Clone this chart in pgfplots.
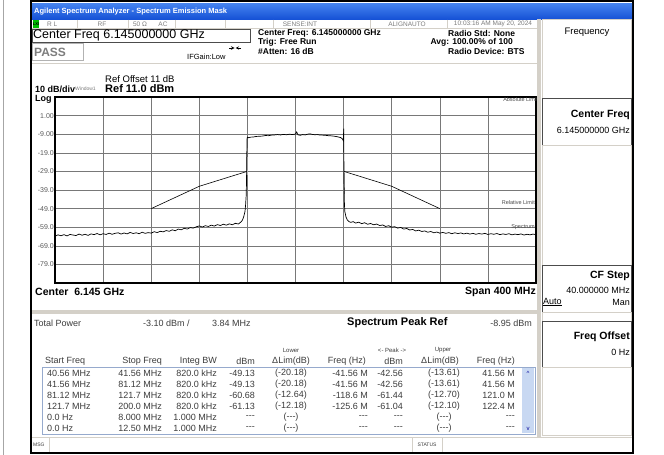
\documentclass[border=0pt]{standalone}
\usepackage{pgfplots}
\pgfplotsset{compat=1.18}
\usepackage{fontspec}
\setmainfont{Liberation Sans}
\definecolor{tbar}{RGB}{22,82,214}
\definecolor{tbartop}{RGB}{70,132,240}
\definecolor{panelgray}{RGB}{212,208,200}
\definecolor{txtgray}{RGB}{125,125,125}
\definecolor{gridgray}{RGB}{120,120,120}
\definecolor{tblborder}{RGB}{150,170,205}
\definecolor{scrollc}{RGB}{200,216,242}
\definecolor{tabtxt}{RGB}{60,60,60}
\newcommand{\fs}[1]{\fontsize{#1}{#1}\selectfont}
\newcommand{\ddd}{-{}-{}-}

\begin{document}
\begin{tikzpicture}
\path[use as bounding box, fill=white] (0,0) rectangle (664pt,-455pt);
\begin{scope}[x=1pt,y=-1pt]
 \draw[gray!70, line width=0.8pt] (3.5,0) -- (3.5,455);
 \draw[black, line width=2pt] (31,1) rectangle (633,453);
 % title bar
 \shade[top color=tbartop, bottom color=tbar] (32,3) rectangle (632,19);
 \node[anchor=west, text=white, font=\fs{7.5}\bfseries, inner sep=0] at (34,11.5) {Agilent Spectrum Analyzer - Spectrum Emission Mask};
 % status row
 \draw[panelgray] (32,28.5) -- (537,28.5);
 \foreach \xx in {77,128,175,225,273,370,447}{\draw[panelgray] (\xx,19.5) -- (\xx,28.5);}
 \fill[green!75!black] (33,20) rectangle (39,28);
 \node[font=\fs{4}\bfseries, inner sep=0] at (36,24) {LXI};
 \begin{scope}[every node/.style={font=\fs{6.5}, text=txtgray, inner sep=0}]
 \node[anchor=west] at (47,24) {R L};
 \node at (102,24) {RF};
 \node at (140,24) {50 Ω};
 \node at (163,24) {AC};
 \node at (300,24) {SENSE:INT};
 \node at (407,24) {ALIGNAUTO};
 \node at (493,24) {10:03:16 AM May 20, 2024};
 \end{scope}
 % Center freq box
 \draw[black!70, line width=0.8pt] (32,29.5) rectangle (250,42);
 \node[anchor=west, font=\fs{12.5}, inner sep=0] at (33,35.8) {Center Freq 6.145000000 GHz};
 \draw[gray!60, line width=0.8pt] (32,43) rectangle (83,60);
 \node[anchor=west, font=\fs{12}\bfseries, text=txtgray, inner sep=0] at (34,52) {PASS};
 \node[anchor=west, font=\fs{7.5}, inner sep=0] at (187,57) {IFGain:Low};
 \draw[-stealth, line width=0.6pt] (229,48) -- (234.5,48);
 \draw[-stealth, line width=0.6pt] (241,48) -- (235.5,48);
 \begin{scope}[every node/.style={font=\fs{8.5}\bfseries, anchor=west, inner sep=0}]
 \node at (258,33) {Center Freq: 6.145000000 GHz};
 \node at (258,42) {Trig: Free Run};
 \node at (258,51) {\#Atten: 16 dB};
 \node[anchor=east] at (513,42) {Avg: 100.00\% of 100};
 \node at (448,33) {Radio Std: None};
 \node at (448,51) {Radio Device: BTS};
 \end{scope}
 \draw[panelgray, line width=1pt] (32,63) -- (537,63);
 % ref texts
 \node[anchor=west, font=\fs{9.5}, inner sep=0] at (105,79) {Ref Offset 11 dB};
 \node[anchor=west, font=\fs{9}\bfseries, inner sep=0] at (35,89.5) {10 dB/div};
 \node[anchor=west, font=\fs{5}, text=txtgray, inner sep=0] at (75,88.5) {Window1};
 \node[anchor=west, font=\fs{11}\bfseries, inner sep=0] at (105,89) {Ref 11.0 dBm};
 \node[anchor=west, font=\fs{9}\bfseries, inner sep=0] at (35,99.5) {Log};
\end{scope}

\begin{axis}[at={(55pt,-97pt)}, anchor=north west, scale only axis,
 width=481pt, height=186pt,
 xmin=-200, xmax=200, ymin=-89, ymax=11,
 xtick={-200,-160,...,200}, xticklabels={},
 ytick={1,-9,-19,-29,-39,-49,-59,-69,-79},
 yticklabels={1.00,-9.00,-19.0,-29.0,-39.0,-49.0,-59.0,-69.0,-79.0},
 yticklabel style={font=\fs{7}, text=black!65, inner sep=1pt},
 grid=major, grid style={gridgray, line width=0.6pt},
 major tick length=0pt,
 axis line style={black, line width=1.5pt},
 clip=true]
\addplot[gray!60, line width=1.6pt] coordinates {(-40.4,-21) (-40.4,-31)};
\addplot[gray!60, line width=1.6pt] coordinates {(40.6,-30) (40.6,-41)};
\addplot[black, line width=0.6pt] coordinates {(-120,-49) (-80,-37) (-40.3,-29)};
\addplot[black, line width=0.6pt] coordinates {(40.3,-29) (80,-37) (120,-49)};
\addplot[black, line width=0.7pt] table {
x y
-200 -63.9
-197.5 -63.1
-195 -63.6
-192.5 -63.0
-190 -63.7
-187.5 -62.9
-185 -63.2
-182.5 -63.5
-180 -62.7
-177.5 -63.3
-175 -62.8
-172.5 -63.4
-170 -62.6
-167.5 -63.0
-165 -62.4
-162.5 -63.1
-160 -62.5
-157.5 -62.9
-155 -62.2
-152.5 -62.8
-150 -62.3
-147.5 -62.0
-145 -62.7
-142.5 -62.1
-140 -62.6
-137.5 -61.8
-135 -62.4
-132.5 -62.0
-130 -62.5
-127.5 -61.7
-125 -62.3
-122.5 -61.9
-120 -62.2
-117.5 -61.4
-115 -61.9
-112.5 -61.2
-110 -61.5
-107.5 -60.8
-105 -61.2
-102.5 -60.4
-100 -60.9
-97.5 -60.0
-95 -60.4
-92.5 -59.6
-90 -60.0
-87.5 -59.2
-85 -59.5
-82.5 -58.8
-80 -58.3
-77.5 -58.9
-75 -58.2
-72.5 -58.6
-70 -57.9
-67.5 -58.4
-65 -57.6
-62.5 -58.1
-60 -57.4
-57.5 -57.9
-55 -57.2
-52.5 -57.7
-50 -56.9
-47.5 -57.3
-46 -56.5
-45 -56.0
-44 -55.0
-43 -53.2
-42 -50.5
-41.5 -47.0
-41 -42.0
-40.7 -33.0
-40.5 -20.0
-40.3 -11.5
-40 -10.6
-39 -10.9
-37.5 -10.6
-35 -10.5
-32.5 -10.2
-30 -10.1
-27.5 -10.0
-25 -9.7
-22.5 -9.8
-20 -9.5
-17.5 -9.4
-15 -9.2
-12.5 -9.4
-10 -9.1
-7.5 -9.3
-5 -9.0
-2.5 -9.2
0 -8.9
1 -7.8
2 -9.3
4 -9.6
6 -9.2
8 -9.4
10 -9.0
12 -8.8
14 -9.1
16 -9.3
18 -9.2
20 -9.4
22.5 -9.5
25 -9.6
27.5 -9.8
30 -9.9
32.5 -10.1
35 -10.4
37.5 -10.8
39 -11.5
39.8 -12.5
40.1 -6.0
40.3 -30.0
40.6 -45.0
41 -50.5
42 -53.5
43 -55.0
44.5 -56.0
46 -56.4
48 -56.0
50 -56.8
52.5 -56.3
55 -57.1
57.5 -56.6
60 -57.4
62.5 -57.0
65 -57.7
67.5 -57.3
70 -58.1
72.5 -57.8
75 -58.6
77.5 -58.2
80 -59.0
82.5 -58.7
85 -59.5
87.5 -59.1
90 -60.0
92.5 -59.7
95 -60.5
97.5 -60.2
100 -61.0
102.5 -60.6
105 -61.3
107.5 -61.0
110 -61.7
112.5 -61.3
115 -62.0
117.5 -61.6
120 -62.2
122.5 -61.8
125 -62.3
127.5 -61.9
130 -62.5
132.5 -62.0
135 -62.4
137.5 -62.1
140 -62.6
142.5 -62.2
145 -62.7
147.5 -62.3
150 -62.8
152.5 -62.4
155 -62.7
157.5 -62.3
160 -62.9
162.5 -62.5
165 -62.8
167.5 -62.4
170 -63.0
172.5 -62.6
175 -62.9
177.5 -62.5
180 -63.1
182.5 -62.7
185 -63.0
187.5 -62.6
190 -63.2
192.5 -62.8
195 -63.1
197.5 -62.7
200 -63.0
};
\end{axis}

\begin{scope}[x=1pt,y=-1pt]
 \begin{scope}[every node/.style={font=\fs{5.5}, text=black!70, anchor=east, inner sep=0}]
 \node at (538,100) {Absolute Limit};
 \node at (535,203) {Relative Limit};
 \node at (535,227) {Spectrum};
 \end{scope}
 \node[anchor=west, font=\fs{10.5}\bfseries, inner sep=0] at (35,292) {Center\ \ 6.145 GHz};
 \node[anchor=east, font=\fs{10.5}\bfseries, inner sep=0] at (536,292) {Span 400 MHz};
 \fill[panelgray] (32,309.5) rectangle (537,313.5);
 % softkey panel
 \fill[panelgray] (537,19) rectangle (541,437);
 \draw[panelgray, line width=0.8pt] (542,19.5) rectangle (631,98);
 \node[font=\fs{9.5}, inner sep=0] at (587,32) {Frequency};
 \draw[black!70, line width=0.8pt] (542,98) rectangle (631,145);
 \node[anchor=east, font=\fs{10.5}\bfseries, inner sep=0] at (630,115) {Center Freq};
 \node[anchor=east, font=\fs{9}, inner sep=0] at (630,130) {6.145000000 GHz};
 \draw[panelgray, line width=0.8pt] (542,145) rectangle (631,265);
 \draw[black!70, line width=0.8pt] (542,265) rectangle (631,312);
 \node[anchor=east, font=\fs{10.5}\bfseries, inner sep=0] at (630,276) {CF Step};
 \node[anchor=east, font=\fs{9}, inner sep=0] at (630,290) {40.000000 MHz};
 \node[anchor=west, font=\fs{9}, inner sep=0] at (543,302) {\underline{Auto}};
 \node[anchor=east, font=\fs{9}, inner sep=0] at (630,302) {Man};
 \draw[panelgray, line width=0.8pt] (542,312) rectangle (631,321);
 \draw[black!70, line width=0.8pt] (542,321) rectangle (631,367);
 \node[anchor=east, font=\fs{10.5}\bfseries, inner sep=0] at (630,337) {Freq Offset};
 \node[anchor=east, font=\fs{9}, inner sep=0] at (630,352) {0 Hz};
 \draw[panelgray, line width=0.8pt] (542,367) rectangle (631,435);
 % measurement summary
 \begin{scope}[every node/.style={font=\fs{9}, text=tabtxt, inner sep=0}]
 \node[anchor=west] at (34,323) {Total Power};
 \node[anchor=west] at (143,323) {-3.10 dBm /};
 \node[anchor=west] at (212,323) {3.84 MHz};
 \node[anchor=east] at (532,323) {-8.95 dBm};
 \end{scope}
 \node[anchor=west, font=\fs{11}\bfseries, inner sep=0] at (347,322.5) {Spectrum Peak Ref};
 \begin{scope}[every node/.style={font=\fs{6}, text=tabtxt, inner sep=0}]
 \node at (291,350.5) {Lower};
 \node at (392,350.5) {<- Peak ->};
 \node at (443,350.5) {Upper};
 \end{scope}
 \begin{scope}[every node/.style={font=\fs{9}, text=tabtxt, inner sep=0}]
 \node[anchor=west] at (45,361) {Start Freq};
 \node[anchor=east] at (162,361) {Stop Freq};
 \node[anchor=east] at (217,361) {Integ BW};
 \node[anchor=east] at (255,361) {dBm};
 \node at (291,361) {ΔLim(dB)};
 \node[anchor=east] at (366,361) {Freq (Hz)};
 \node[anchor=east] at (403,361) {dBm};
 \node at (440,361) {ΔLim(dB)};
 \node[anchor=east] at (515,361) {Freq (Hz)};
 \end{scope}
 \draw[tblborder, line width=0.8pt] (42,367) rectangle (535,434);
 \fill[scrollc] (522,368) rectangle (534,433);
 \node[font=\fs{6}, text=blue!60!black, inner sep=0] at (528,373) {\^{}};
 \node[font=\fs{6}, text=blue!60!black, inner sep=0] at (528,429) {v};
 \foreach \y/\a/\b/\c/\d/\e/\f/\g/\h/\i in {
  373/40.56 MHz/41.56 MHz/820.0 kHz/-49.13/(-20.18)/-41.56 M/-42.56/(-13.61)/41.56 M,
  384/41.56 MHz/81.12 MHz/820.0 kHz/-49.13/(-20.18)/-41.56 M/-42.56/(-13.61)/41.56 M,
  395/81.12 MHz/121.7 MHz/820.0 kHz/-60.68/(-12.64)/-118.6 M/-61.44/(-12.70)/121.0 M,
  406/121.7 MHz/200.0 MHz/820.0 kHz/-61.13/(-12.18)/-125.6 M/-61.04/(-12.10)/122.4 M,
  417/0.0 Hz/8.000 MHz/1.000 MHz/\ddd/(\ddd)/\ddd/\ddd/(\ddd)/\ddd,
  428/0.0 Hz/12.50 MHz/1.000 MHz/\ddd/(\ddd)/\ddd/\ddd/(\ddd)/\ddd}{
  \begin{scope}[every node/.style={font=\fs{9}, text=tabtxt, inner sep=0}]
  \node[anchor=west] at (47,\y) {\a};
  \node[anchor=east] at (162,\y) {\b};
  \node[anchor=east] at (217,\y) {\c};
  \node[anchor=east] at (255,\y) {\d};
  \node at (291,\y) {\e};
  \node[anchor=east] at (368,\y) {\f};
  \node[anchor=east] at (403,\y) {\g};
  \node at (444,\y) {\h};
  \node[anchor=east] at (515,\y) {\i};
  \end{scope}
 }
 % message bar
 \draw[panelgray, line width=1pt] (32,437) -- (632,437);
 \draw[panelgray] (49,437) -- (49,452);
 \draw[panelgray] (412,437) -- (412,452);
 \draw[panelgray] (442,437) -- (442,452);
 \node[anchor=west, font=\fs{5}, text=tabtxt, inner sep=0] at (33,445) {MSG};
 \node[font=\fs{5}, text=tabtxt, inner sep=0] at (427,445) {STATUS};
\end{scope}
\end{tikzpicture}
\end{document}
